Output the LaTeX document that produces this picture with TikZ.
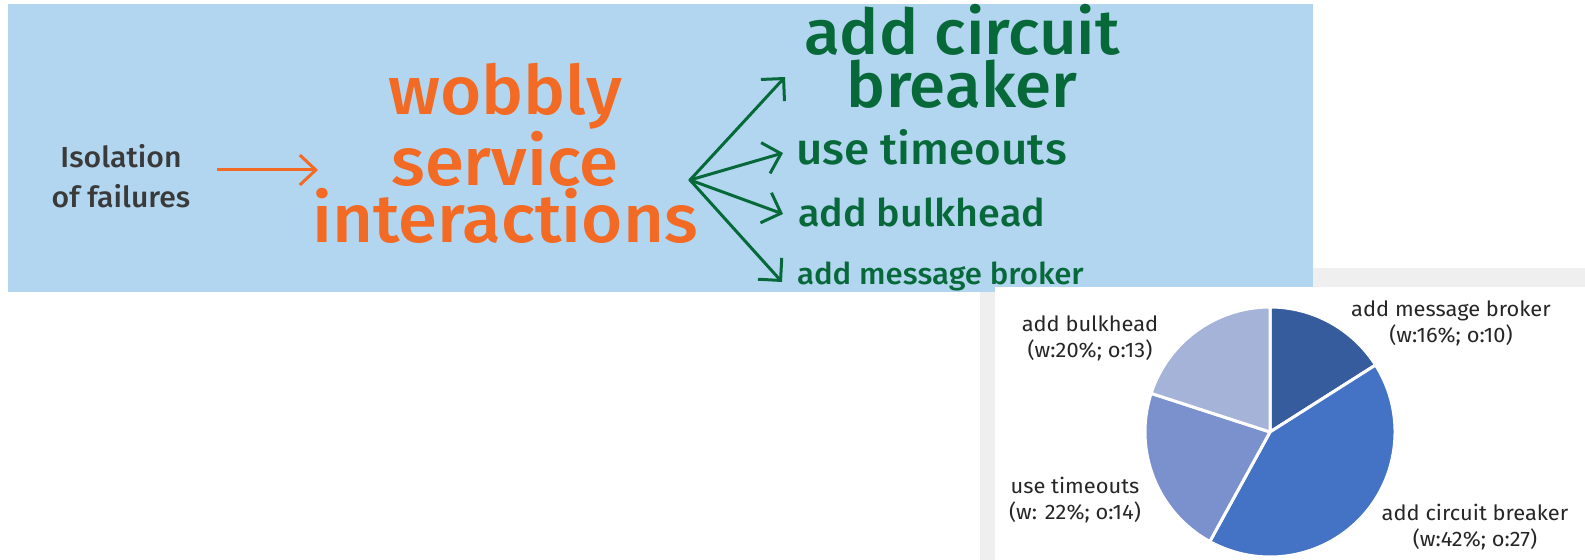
\documentclass[tikz,border=0pt]{standalone}
\usepackage{fontspec}
\setmainfont{Fira Sans}[FakeStretch=1.04]
\newfontfamily\medf{Fira Sans Medium}[FakeStretch=1.04]
\usetikzlibrary{arrows.meta}
\definecolor{bgblue}{HTML}{B2D6F0}
\definecolor{panelgray}{HTML}{EFEFEF}
\definecolor{orng}{HTML}{F26A24}
\definecolor{grn}{HTML}{07693A}
\definecolor{darktxt}{HTML}{3A3A3A}
\definecolor{pietxt}{HTML}{262626}
\definecolor{pmsg}{HTML}{365C9E}
\definecolor{pcb}{HTML}{4472C4}
\definecolor{pto}{HTML}{7A91CE}
\definecolor{pbh}{HTML}{A5B3D9}
\begin{document}
\begin{tikzpicture}[x=0.5pt,y=-0.5pt,
  lbl/.style={inner sep=0pt, outer sep=0pt, align=center, anchor=base},
  lblw/.style={inner sep=0pt, outer sep=0pt, anchor=base west},
  oarrow/.style={draw=orng, line width=1.5pt, -{Straight Barb[length=8pt,width=15pt,line width=1.5pt]}},
  garrow/.style={draw=grn, line width=1.5pt, line cap=round, -{Straight Barb[length=8pt,width=16pt,line width=1.5pt]}},
  slice/.style={draw=white, line width=1.5pt, line join=round},
  pielbl/.style={inner sep=0pt, align=center, anchor=base, text=pietxt, font=\fontsize{10.5}{13}\selectfont}]
\useasboundingbox (0,0) rectangle (1585,560);
\fill[white] (0,0) rectangle (1585,560);
\fill[panelgray] (980,268) rectangle (1585,560);
\fill[bgblue] (8,4) rectangle (1313,292);
\fill[white] (995,287) rectangle (1585,560);

% left text
\node[lbl, text=darktxt, font=\medf\fontsize{14.5}{20}\selectfont] (iso) at (121,208) {Isolation\\of failures};
\node[lbl, text=orng, font=\medf\fontsize{34}{25}\selectfont] (wob) at (505,243) {wobbly\\service\\interactions};

% orange arrow
\coordinate (oa) at (217,170);
\coordinate (ob) at (318,170);
\draw[oarrow] (oa) -- (ob);

% green texts
\node[lbl, text=grn, font=\medf\fontsize{31.5}{26.5}\selectfont] (acb) at (962,108) {add circuit\\breaker};
\node[lblw, text=grn, font=\medf\fontsize{22}{26}\selectfont] (uto) at (796,165) {use timeouts};
\node[lblw, text=grn, font=\medf\fontsize{19}{22}\selectfont] (abh) at (798,227) {add bulkhead};
\node[lblw, text=grn, font=\medf\fontsize{15}{18}\selectfont] (amb) at (797,285) {add message broker};

% green arrows
\coordinate (junc) at (690,180);
\coordinate (t1) at (785,77);
\coordinate (t2) at (783,153);
\coordinate (t3) at (783,214);
\coordinate (t4) at (782,282);
\draw[garrow] (junc) -- (t1);
\draw[garrow] (junc) -- (t2);
\draw[garrow] (junc) -- (t3);
\draw[garrow] (junc) -- (t4);

% pie
\coordinate (pc) at (1270,432);
\begin{scope}[shift={(pc)}, yscale=-1]
  \filldraw[slice, fill=pmsg] (0,0) -- (90:125) arc[start angle=90, end angle=32.4, radius=125] -- cycle;
  \filldraw[slice, fill=pcb] (0,0) -- (32.4:125) arc[start angle=32.4, end angle=-118.8, radius=125] -- cycle;
  \filldraw[slice, fill=pto] (0,0) -- (-118.8:125) arc[start angle=-118.8, end angle=-198, radius=125] -- cycle;
  \filldraw[slice, fill=pbh] (0,0) -- (-198:125) arc[start angle=-198, end angle=-270, radius=125] -- cycle;
\end{scope}

\node[pielbl] (lmb) at (1451,343) {add message broker\\(w:16\%; o:10)};
\node[pielbl] (lbh) at (1090,358) {add bulkhead\\(w:20\%; o:13)};
\node[pielbl] (lto) at (1075,520) {use timeouts\\(w: 22\%; o:14)};
\node[pielbl] (lcb) at (1475,547) {add circuit breaker\\(w:42\%; o:27)};
\end{tikzpicture}
\end{document}
